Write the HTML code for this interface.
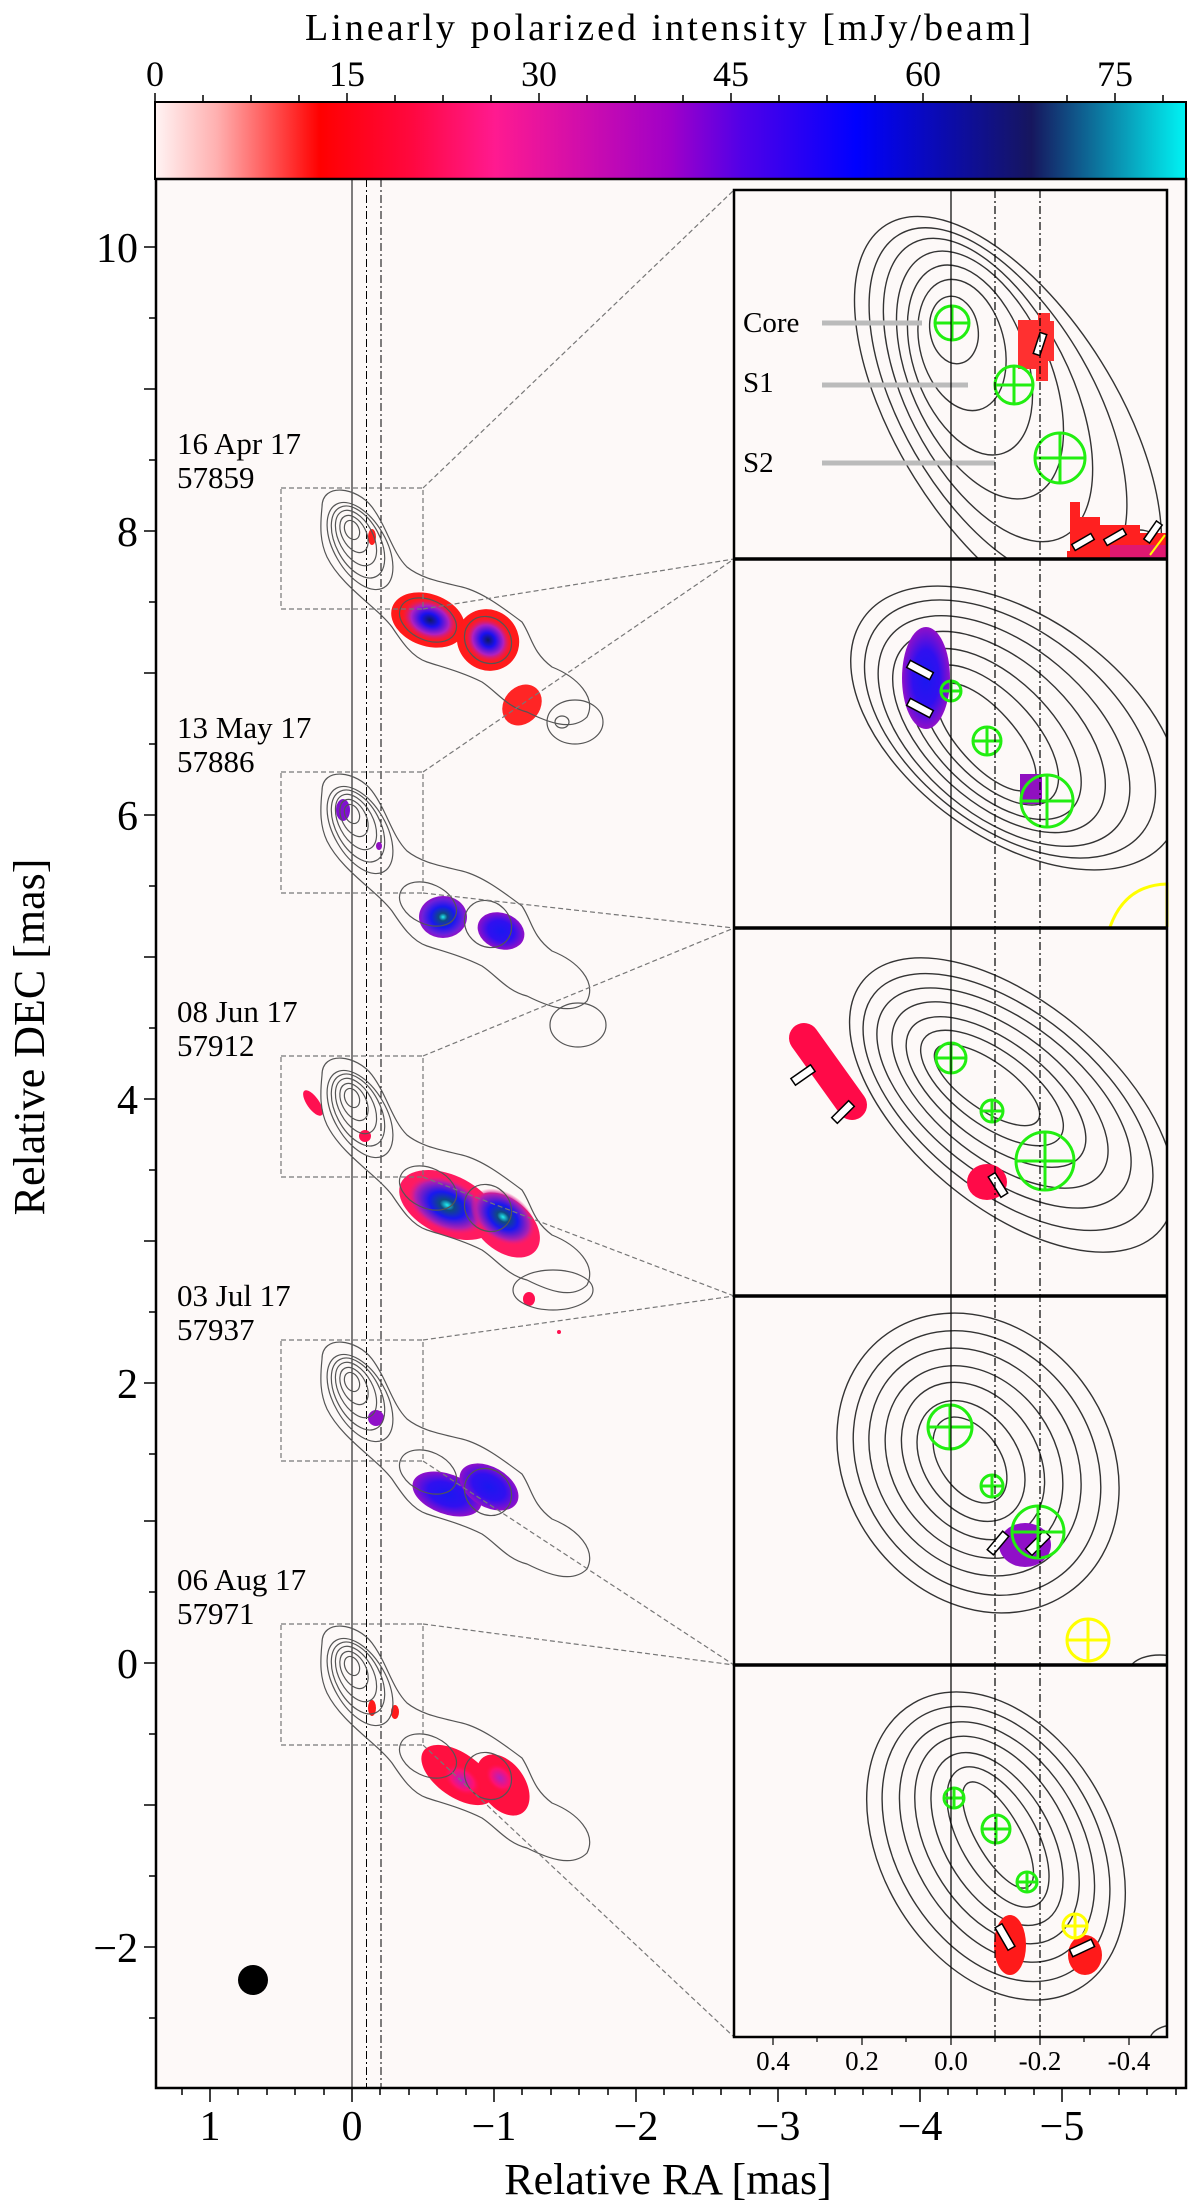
<!DOCTYPE html>
<html><head><meta charset="utf-8"><style>html,body{margin:0;padding:0;background:#fff}svg{display:block}text{font-family:"Liberation Serif",serif;fill:#000}</style></head><body>
<svg width="1200" height="2211" viewBox="0 0 1200 2211" xmlns="http://www.w3.org/2000/svg">
<defs>
<linearGradient id="cb" x1="0" x2="1" y1="0" y2="0">
<stop offset="0" stop-color="#fff4f4"/><stop offset="0.06" stop-color="#ffb0b0"/><stop offset="0.16" stop-color="#ff0000"/><stop offset="0.25" stop-color="#ff0840"/><stop offset="0.33" stop-color="#ff1a90"/><stop offset="0.5" stop-color="#a000c8"/><stop offset="0.57" stop-color="#5000e8"/><stop offset="0.68" stop-color="#0000ff"/><stop offset="0.85" stop-color="#16165e"/><stop offset="1" stop-color="#00f4f4"/></linearGradient>
<radialGradient id="gB"><stop offset="0" stop-color="#101a60"/><stop offset="0.3" stop-color="#1a10f0"/><stop offset="0.65" stop-color="#b020c0"/><stop offset="1" stop-color="#ff1a30" stop-opacity="0"/></radialGradient>
<radialGradient id="gC"><stop offset="0" stop-color="#20f0f0"/><stop offset="0.18" stop-color="#104a80"/><stop offset="0.5" stop-color="#1818f0"/><stop offset="0.85" stop-color="#7020d8"/><stop offset="1" stop-color="#9010c8"/></radialGradient>
<radialGradient id="gP"><stop offset="0" stop-color="#1a18f0"/><stop offset="0.55" stop-color="#3010f0"/><stop offset="1" stop-color="#9010c8"/></radialGradient>
<radialGradient id="gC2"><stop offset="0" stop-color="#20f0f0"/><stop offset="0.18" stop-color="#104a80"/><stop offset="0.45" stop-color="#1818f0"/><stop offset="0.8" stop-color="#b020b0"/><stop offset="1" stop-color="#ff1a70" stop-opacity="0"/></radialGradient>
<radialGradient id="gM"><stop offset="0" stop-color="#b020c0"/><stop offset="0.6" stop-color="#ff1070"/><stop offset="1" stop-color="#ff1030" stop-opacity="0"/></radialGradient>
<g id="epc" fill="none" stroke="#555" stroke-width="1.2">
<ellipse cx="0" cy="3" rx="10" ry="7" transform="rotate(65 0 3)"/>
<ellipse cx="2" cy="7" rx="20" ry="12" transform="rotate(62 2 7)"/>
<ellipse cx="4" cy="11" rx="30" ry="17" transform="rotate(62 4 11)"/>
<ellipse cx="6" cy="15" rx="39" ry="22" transform="rotate(62 6 15)"/>
<ellipse cx="8" cy="19" rx="48" ry="26" transform="rotate(60 8 19)"/>
<path d="M-30,-20 C-30,-45 5,-40 20,-20 C35,0 40,25 55,40 C70,52 90,55 110,60 C130,65 150,80 170,95 C180,110 180,125 200,140 C225,150 245,170 235,190 C220,205 195,195 175,185 C155,180 145,165 130,155 C110,145 90,140 75,135 C60,130 50,115 40,100 C25,80 -10,60 -25,30 C-32,15 -32,0 -30,-20 Z"/>
<ellipse cx="76" cy="93" rx="30" ry="20" transform="rotate(25 76 93)"/>
<ellipse cx="136" cy="113" rx="25" ry="22" transform="rotate(45 136 113)"/>
</g>
<clipPath id="cp1"><rect x="734" y="190" width="433" height="369"/></clipPath>
<clipPath id="cp2"><rect x="734" y="559" width="433" height="369"/></clipPath>
<clipPath id="cp3"><rect x="734" y="928" width="433" height="368"/></clipPath>
<clipPath id="cp4"><rect x="734" y="1296" width="433" height="369"/></clipPath>
<clipPath id="cp5"><rect x="734" y="1665" width="433" height="372"/></clipPath>
</defs>

<text x="668" y="40" font-size="38" text-anchor="middle" textLength="726">Linearly polarized intensity [mJy/beam]</text>
<g font-size="36" text-anchor="middle">
<text x="155" y="86">0</text><text x="347" y="86">15</text><text x="539" y="86">30</text><text x="731" y="86">45</text><text x="923" y="86">60</text><text x="1115" y="86">75</text></g>
<rect x="155" y="102" width="1031" height="77" fill="url(#cb)" stroke="#000" stroke-width="2"/>
<path d="M155,102v-9M203,102v-7M251,102v-7M299,102v-7M347,102v-9M395,102v-7M443,102v-7M491,102v-7M539,102v-9M587,102v-7M635,102v-7M683,102v-7M731,102v-9M779,102v-7M827,102v-7M875,102v-7M923,102v-9M971,102v-7M1019,102v-7M1067,102v-7M1115,102v-9M1163,102v-7" stroke="#000" stroke-width="1.5"/>

<rect x="156" y="179" width="1030" height="1909" fill="#fdf9f8"/>
<g stroke="#000" stroke-width="1">
<line x1="352" y1="179" x2="352" y2="2088"/>
<line x1="366.5" y1="179" x2="366.5" y2="2088" stroke-dasharray="8,3,2,3"/>
<line x1="381" y1="179" x2="381" y2="2088" stroke-dasharray="8,3,2,3"/>
</g>

<g>
<ellipse cx="372" cy="537" rx="4" ry="8" fill="#ff2020"/>
<ellipse cx="428" cy="620" rx="38" ry="26" transform="rotate(20 428 620)" fill="#ff1a1a"/>
<ellipse cx="488" cy="640" rx="32" ry="30" transform="rotate(40 488 640)" fill="#ff1a1a"/>
<ellipse cx="430" cy="620" rx="30" ry="21" transform="rotate(20 430 620)" fill="url(#gB)"/>
<ellipse cx="488" cy="640" rx="25" ry="22" transform="rotate(40 488 640)" fill="url(#gB)"/>
<ellipse cx="522" cy="705" rx="18" ry="22" transform="rotate(40 522 705)" fill="#ff2525"/>
<ellipse cx="343" cy="810" rx="7" ry="11" fill="#8010d0"/>
<ellipse cx="379" cy="846" rx="3" ry="4" fill="#9010c0"/>
<ellipse cx="443" cy="917" rx="24" ry="21" fill="url(#gC)"/>
<ellipse cx="501" cy="931" rx="24" ry="18" transform="rotate(20 501 931)" fill="url(#gP)"/>
<ellipse cx="313" cy="1103" rx="15" ry="6" transform="rotate(55 313 1103)" fill="#ff1050"/>
<circle cx="365" cy="1136" r="6" fill="#ff1050"/>
<ellipse cx="448" cy="1205" rx="52" ry="30" transform="rotate(25 448 1205)" fill="#ff1a60"/>
<ellipse cx="505" cy="1225" rx="40" ry="26" transform="rotate(40 505 1225)" fill="#ff1a60"/>
<ellipse cx="447" cy="1205" rx="42" ry="26" transform="rotate(25 447 1205)" fill="url(#gC2)"/>
<ellipse cx="503" cy="1217" rx="36" ry="24" transform="rotate(35 503 1217)" fill="url(#gC2)"/>
<ellipse cx="529" cy="1299" rx="6" ry="7" fill="#ff1050"/>
<circle cx="559" cy="1332" r="2" fill="#ff1050"/>
<circle cx="376" cy="1418" r="8" fill="#9010c8"/>
<ellipse cx="447" cy="1494" rx="36" ry="20" transform="rotate(20 447 1494)" fill="url(#gP)"/>
<ellipse cx="489" cy="1487" rx="32" ry="20" transform="rotate(30 489 1487)" fill="url(#gP)"/>
<ellipse cx="372" cy="1708" rx="4" ry="8" fill="#ff1a1a"/>
<ellipse cx="395" cy="1712" rx="4" ry="7" fill="#ff1a1a"/>
<ellipse cx="458" cy="1775" rx="42" ry="22" transform="rotate(35 458 1775)" fill="#ff1040"/>
<ellipse cx="503" cy="1785" rx="34" ry="22" transform="rotate(55 503 1785)" fill="#ff1040"/>
<ellipse cx="462" cy="1780" rx="22" ry="14" transform="rotate(35 462 1780)" fill="url(#gM)"/>
<ellipse cx="500" cy="1778" rx="18" ry="13" transform="rotate(45 500 1778)" fill="url(#gM)"/>
</g>
<use href="#epc" transform="translate(352 527)"/>
<use href="#epc" transform="translate(352 811)"/>
<use href="#epc" transform="translate(352 1095)"/>
<use href="#epc" transform="translate(352 1379)"/>
<use href="#epc" transform="translate(352 1663)"/>
<g fill="none" stroke="#555" stroke-width="1.2">
<ellipse cx="575" cy="722" rx="28" ry="22"/><ellipse cx="562" cy="722" rx="7" ry="6"/>
<ellipse cx="553" cy="1290" rx="40" ry="20"/>
<ellipse cx="578" cy="1025" rx="28" ry="22"/>
</g>

<g fill="none" stroke="#777" stroke-width="1.2" stroke-dasharray="5,3">
<rect x="281" y="488" width="142" height="121"/>
<rect x="281" y="772" width="142" height="121"/>
<rect x="281" y="1056" width="142" height="121"/>
<rect x="281" y="1340" width="142" height="121"/>
<rect x="281" y="1624" width="142" height="121"/>
<path d="M423,488L734,190M423,609L734,559M423,772L734,559M423,893L734,928M423,1056L734,928M423,1177L734,1296M423,1340L734,1296M423,1461L734,1665M423,1624L734,1665M423,1745L734,2037"/>
</g>

<g font-size="31">
<text x="177" y="454">16 Apr 17</text><text x="177" y="488">57859</text>
<text x="177" y="738">13 May 17</text><text x="177" y="772">57886</text>
<text x="177" y="1022">08 Jun 17</text><text x="177" y="1056">57912</text>
<text x="177" y="1306">03 Jul 17</text><text x="177" y="1340">57937</text>
<text x="177" y="1590">06 Aug 17</text><text x="177" y="1624">57971</text>
</g>
<circle cx="253" cy="1980" r="15" fill="#000"/>

<rect x="734" y="190" width="433" height="1847" fill="#fdf9f8"/>
<g fill="none" stroke="#333" stroke-width="1.4">
<g clip-path="url(#cp1)">
<ellipse cx="954" cy="330" rx="34" ry="24" transform="rotate(80 954 330)"/>
<ellipse cx="962" cy="345" rx="67" ry="42" transform="rotate(75 962 345)"/>
<ellipse cx="970" cy="360" rx="99" ry="56" transform="rotate(70 970 360)"/>
<ellipse cx="980" cy="375" rx="132" ry="70" transform="rotate(66 980 375)"/>
<ellipse cx="988" cy="390" rx="165" ry="82" transform="rotate(63 988 390)"/>
<ellipse cx="998" cy="405" rx="197" ry="96" transform="rotate(60 998 405)"/>
<ellipse cx="1008" cy="420" rx="230" ry="110" transform="rotate(58 1008 420)"/>
<ellipse cx="1140" cy="570" rx="30" ry="40"/>
</g>
<g clip-path="url(#cp2)">
<ellipse cx="986" cy="737" rx="68" ry="28" transform="rotate(48 986 737)"/>
<ellipse cx="990" cy="735" rx="88" ry="43" transform="rotate(46 990 735)"/>
<ellipse cx="994" cy="734" rx="108" ry="57" transform="rotate(44 994 734)"/>
<ellipse cx="999" cy="732" rx="128" ry="71" transform="rotate(42 999 732)"/>
<ellipse cx="1004" cy="731" rx="148" ry="85" transform="rotate(40 1004 731)"/>
<ellipse cx="1010" cy="729" rx="168" ry="98" transform="rotate(38 1010 729)"/>
<ellipse cx="1016" cy="728" rx="188" ry="110" transform="rotate(36 1016 728)"/>
</g>
<g clip-path="url(#cp3)">
<ellipse cx="987" cy="1085" rx="62" ry="24" transform="rotate(35 987 1085)"/>
<ellipse cx="992" cy="1088" rx="84" ry="37" transform="rotate(36 992 1088)"/>
<ellipse cx="996" cy="1092" rx="106" ry="50" transform="rotate(37 996 1092)"/>
<ellipse cx="1000" cy="1095" rx="128" ry="63" transform="rotate(38 1000 1095)"/>
<ellipse cx="1004" cy="1098" rx="150" ry="76" transform="rotate(38 1004 1098)"/>
<ellipse cx="1008" cy="1102" rx="172" ry="89" transform="rotate(39 1008 1102)"/>
<ellipse cx="1012" cy="1105" rx="194" ry="102" transform="rotate(40 1012 1105)"/>
</g>
<g clip-path="url(#cp4)">
<ellipse cx="970" cy="1460" rx="48" ry="30" transform="rotate(55 970 1460)"/>
<ellipse cx="971" cy="1461" rx="66" ry="47" transform="rotate(55 971 1461)"/>
<ellipse cx="973" cy="1461" rx="85" ry="64" transform="rotate(55 973 1461)"/>
<ellipse cx="974" cy="1462" rx="103" ry="81" transform="rotate(55 974 1462)"/>
<ellipse cx="975" cy="1462" rx="121" ry="98" transform="rotate(55 975 1462)"/>
<ellipse cx="977" cy="1463" rx="140" ry="115" transform="rotate(55 977 1463)"/>
<ellipse cx="978" cy="1463" rx="158" ry="132" transform="rotate(55 978 1463)"/>
<ellipse cx="1160" cy="1670" rx="30" ry="15"/>
</g>
<g clip-path="url(#cp5)">
<ellipse cx="998" cy="1835" rx="60" ry="22" transform="rotate(60 998 1835)"/>
<ellipse cx="998" cy="1837" rx="78" ry="38" transform="rotate(60 998 1837)"/>
<ellipse cx="997" cy="1839" rx="95" ry="53" transform="rotate(60 997 1839)"/>
<ellipse cx="997" cy="1840" rx="113" ry="69" transform="rotate(60 997 1840)"/>
<ellipse cx="997" cy="1842" rx="130" ry="84" transform="rotate(60 997 1842)"/>
<ellipse cx="996" cy="1844" rx="148" ry="100" transform="rotate(60 996 1844)"/>
<ellipse cx="996" cy="1846" rx="165" ry="115" transform="rotate(60 996 1846)"/>
<ellipse cx="1175" cy="2040" rx="25" ry="15"/>
</g>
</g>

<g>
<path d="M1018,320h20v-7h12v8h4v40h-6v20h-12v-12h-18z" fill="#ff3030"/>
<g clip-path="url(#cp1)">
<path d="M1070,502h10v15h20v8h40v8h27v30h-100v-12h3z" fill="#ff2020"/>
<path d="M1110,545h57v18h-57z" fill="#e01870"/>
<path d="M1150,555l15,-20" stroke="#ff0" stroke-width="2"/>
</g>
<ellipse cx="926" cy="678" rx="24" ry="51" fill="url(#gP)"/>
<rect x="1020" y="774" width="22" height="30" fill="#9010c0"/>
<path d="M1110,927 Q1125,885 1167,884 V927" fill="none" stroke="#ff0" stroke-width="3"/>
<path d="M804,1038 L852,1105" stroke="#ff0a48" stroke-width="30" stroke-linecap="round"/>
<ellipse cx="987" cy="1182" rx="20" ry="18" fill="#ff0a48"/>
<ellipse cx="1025" cy="1545" rx="26" ry="22" fill="#9010c8"/>
<ellipse cx="1010" cy="1945" rx="16" ry="30" fill="#ff1a1a"/>
<ellipse cx="1085" cy="1955" rx="17" ry="20" fill="#ff1a1a"/>
</g>
<g fill="#fff" stroke="#000" stroke-width="1.5">
<rect x="-11" y="-3.5" width="22" height="7" transform="translate(1040 344) rotate(-72)"/>
<rect x="-11" y="-3.5" width="22" height="7" transform="translate(1083 542) rotate(-30)"/>
<rect x="-11" y="-3.5" width="22" height="7" transform="translate(1115 537) rotate(-30)"/>
<rect x="-11" y="-3.5" width="22" height="7" transform="translate(1153 532) rotate(-55)"/>
<rect x="-13" y="-4" width="26" height="8" transform="translate(920 670) rotate(28)"/>
<rect x="-13" y="-4" width="26" height="8" transform="translate(920 708) rotate(28)"/>
<rect x="-12" y="-4" width="24" height="8" transform="translate(803 1075) rotate(-35)"/>
<rect x="-12" y="-4" width="24" height="8" transform="translate(843 1112) rotate(-45)"/>
<rect x="-12" y="-4" width="24" height="8" transform="translate(998 1185) rotate(58)"/>
<rect x="-12" y="-4" width="24" height="8" transform="translate(998 1543) rotate(-50)"/>
<rect x="-13" y="-4.5" width="26" height="9" transform="translate(1038 1543) rotate(-45)"/>
<rect x="-13" y="-4" width="26" height="8" transform="translate(1005 1937) rotate(60)"/>
<rect x="-12" y="-4" width="24" height="8" transform="translate(1082 1948) rotate(-25)"/>
</g>

<g fill="none" stroke="#22ee11" stroke-width="3">
<circle cx="952" cy="323" r="17"/><path d="M935,323h34M952,306v34"/>
<circle cx="1014" cy="385" r="19"/><path d="M995,385h38M1014,366v38"/>
<circle cx="1060" cy="458" r="25"/><path d="M1035,458h50M1060,433v50"/>
<circle cx="951" cy="691" r="10"/><path d="M941,691h20M951,681v20"/>
<circle cx="987" cy="741" r="14"/><path d="M973,741h28M987,727v28"/>
<circle cx="1047" cy="801" r="26"/><path d="M1021,801h52M1047,775v52"/>
<circle cx="951" cy="1058" r="15"/><path d="M936,1058h30M951,1043v30"/>
<circle cx="992" cy="1111" r="11"/><path d="M981,1111h22M992,1100v22"/>
<circle cx="1045" cy="1161" r="29"/><path d="M1016,1161h58M1045,1132v58"/>
<circle cx="950" cy="1427" r="22"/><path d="M928,1427h44M950,1405v44"/>
<circle cx="992" cy="1486" r="11"/><path d="M981,1486h22M992,1475v22"/>
<circle cx="1038" cy="1532" r="26"/><path d="M1012,1532h52M1038,1506v52"/>
<circle cx="954" cy="1798" r="10"/><path d="M944,1798h20M954,1788v20"/>
<circle cx="996" cy="1829" r="14"/><path d="M982,1829h28M996,1815v28"/>
<circle cx="1027" cy="1882" r="10"/><path d="M1017,1882h20M1027,1872v20"/>
</g>
<g fill="none" stroke="#ffff00" stroke-width="3">
<circle cx="1088" cy="1640" r="21"/><path d="M1067,1640h42M1088,1619v42"/>
<circle cx="1075" cy="1926" r="12"/><path d="M1063,1926h24M1075,1914v24"/>
</g>

<g stroke="#bbb" stroke-width="5"><path d="M822,323h100M822,385h146M822,463h173"/></g>
<g font-size="29"><text x="743" y="332">Core</text><text x="743" y="392">S1</text><text x="743" y="472">S2</text></g>

<g stroke="#000" stroke-width="1.2">
<line x1="951" y1="190" x2="951" y2="2037"/>
<line x1="995" y1="190" x2="995" y2="2037" stroke-dasharray="8,3,2,3"/>
<line x1="1040" y1="190" x2="1040" y2="2037" stroke-dasharray="8,3,2,3"/>
</g>
<rect x="734" y="190" width="433" height="1847" fill="none" stroke="#000" stroke-width="2.5"/>
<path d="M734,559h433M734,928h433M734,1296h433M734,1665h433" stroke="#000" stroke-width="3.5"/>
<path d="M773,2037v8M817,2037v5M862,2037v8M906,2037v5M951,2037v8M995,2037v5M1040,2037v8M1084,2037v5M1129,2037v8" stroke="#000" stroke-width="1.2"/>
<g font-size="27" text-anchor="middle">
<text x="773" y="2070">0.4</text><text x="862" y="2070">0.2</text><text x="951" y="2070">0.0</text><text x="1040" y="2070">-0.2</text><text x="1129" y="2070">-0.4</text></g>

<rect x="156" y="179" width="1030" height="1909" fill="none" stroke="#000" stroke-width="2.5"/>
<path d="M156,247h-12M156,318h-7M156,389h-12M156,460h-7M156,531h-12M156,602h-7M156,673h-12M156,744h-7M156,815h-12M156,886h-7M156,957h-12M156,1028h-7M156,1099h-12M156,1170h-7M156,1241h-12M156,1312h-7M156,1383h-12M156,1454h-7M156,1521h-12M156,1592h-7M156,1663h-12M156,1734h-7M156,1805h-12M156,1876h-7M156,1947h-12M156,2018h-7" stroke="#000" stroke-width="1.5"/>
<path d="M182,2088v7M210,2088v14M238,2088v7M267,2088v7M295,2088v7M324,2088v7M352,2088v14M380,2088v7M409,2088v7M437,2088v7M466,2088v7M494,2088v14M522,2088v7M551,2088v7M579,2088v7M608,2088v7M636,2088v14M664,2088v7M693,2088v7M721,2088v7M750,2088v7M778,2088v14M806,2088v7M835,2088v7M863,2088v7M892,2088v7M920,2088v14M948,2088v7M977,2088v7M1005,2088v7M1034,2088v7M1062,2088v14M1090,2088v7M1119,2088v7M1147,2088v7M1176,2088v7" stroke="#000" stroke-width="1.5"/>
<g font-size="42" text-anchor="end">
<text x="138" y="262">10</text><text x="138" y="546">8</text><text x="138" y="830">6</text><text x="138" y="1114">4</text><text x="138" y="1398">2</text><text x="138" y="1678">0</text><text x="138" y="1962">−2</text></g>
<g font-size="42" text-anchor="middle">
<text x="210" y="2140">1</text><text x="352" y="2140">0</text><text x="494" y="2140">−1</text><text x="636" y="2140">−2</text><text x="778" y="2140">−3</text><text x="920" y="2140">−4</text><text x="1062" y="2140">−5</text></g>
<text x="668" y="2194" font-size="44" text-anchor="middle">Relative RA [mas]</text>
<text transform="translate(44 1037) rotate(-90)" font-size="44" text-anchor="middle">Relative DEC [mas]</text>
</svg>
</body></html>
